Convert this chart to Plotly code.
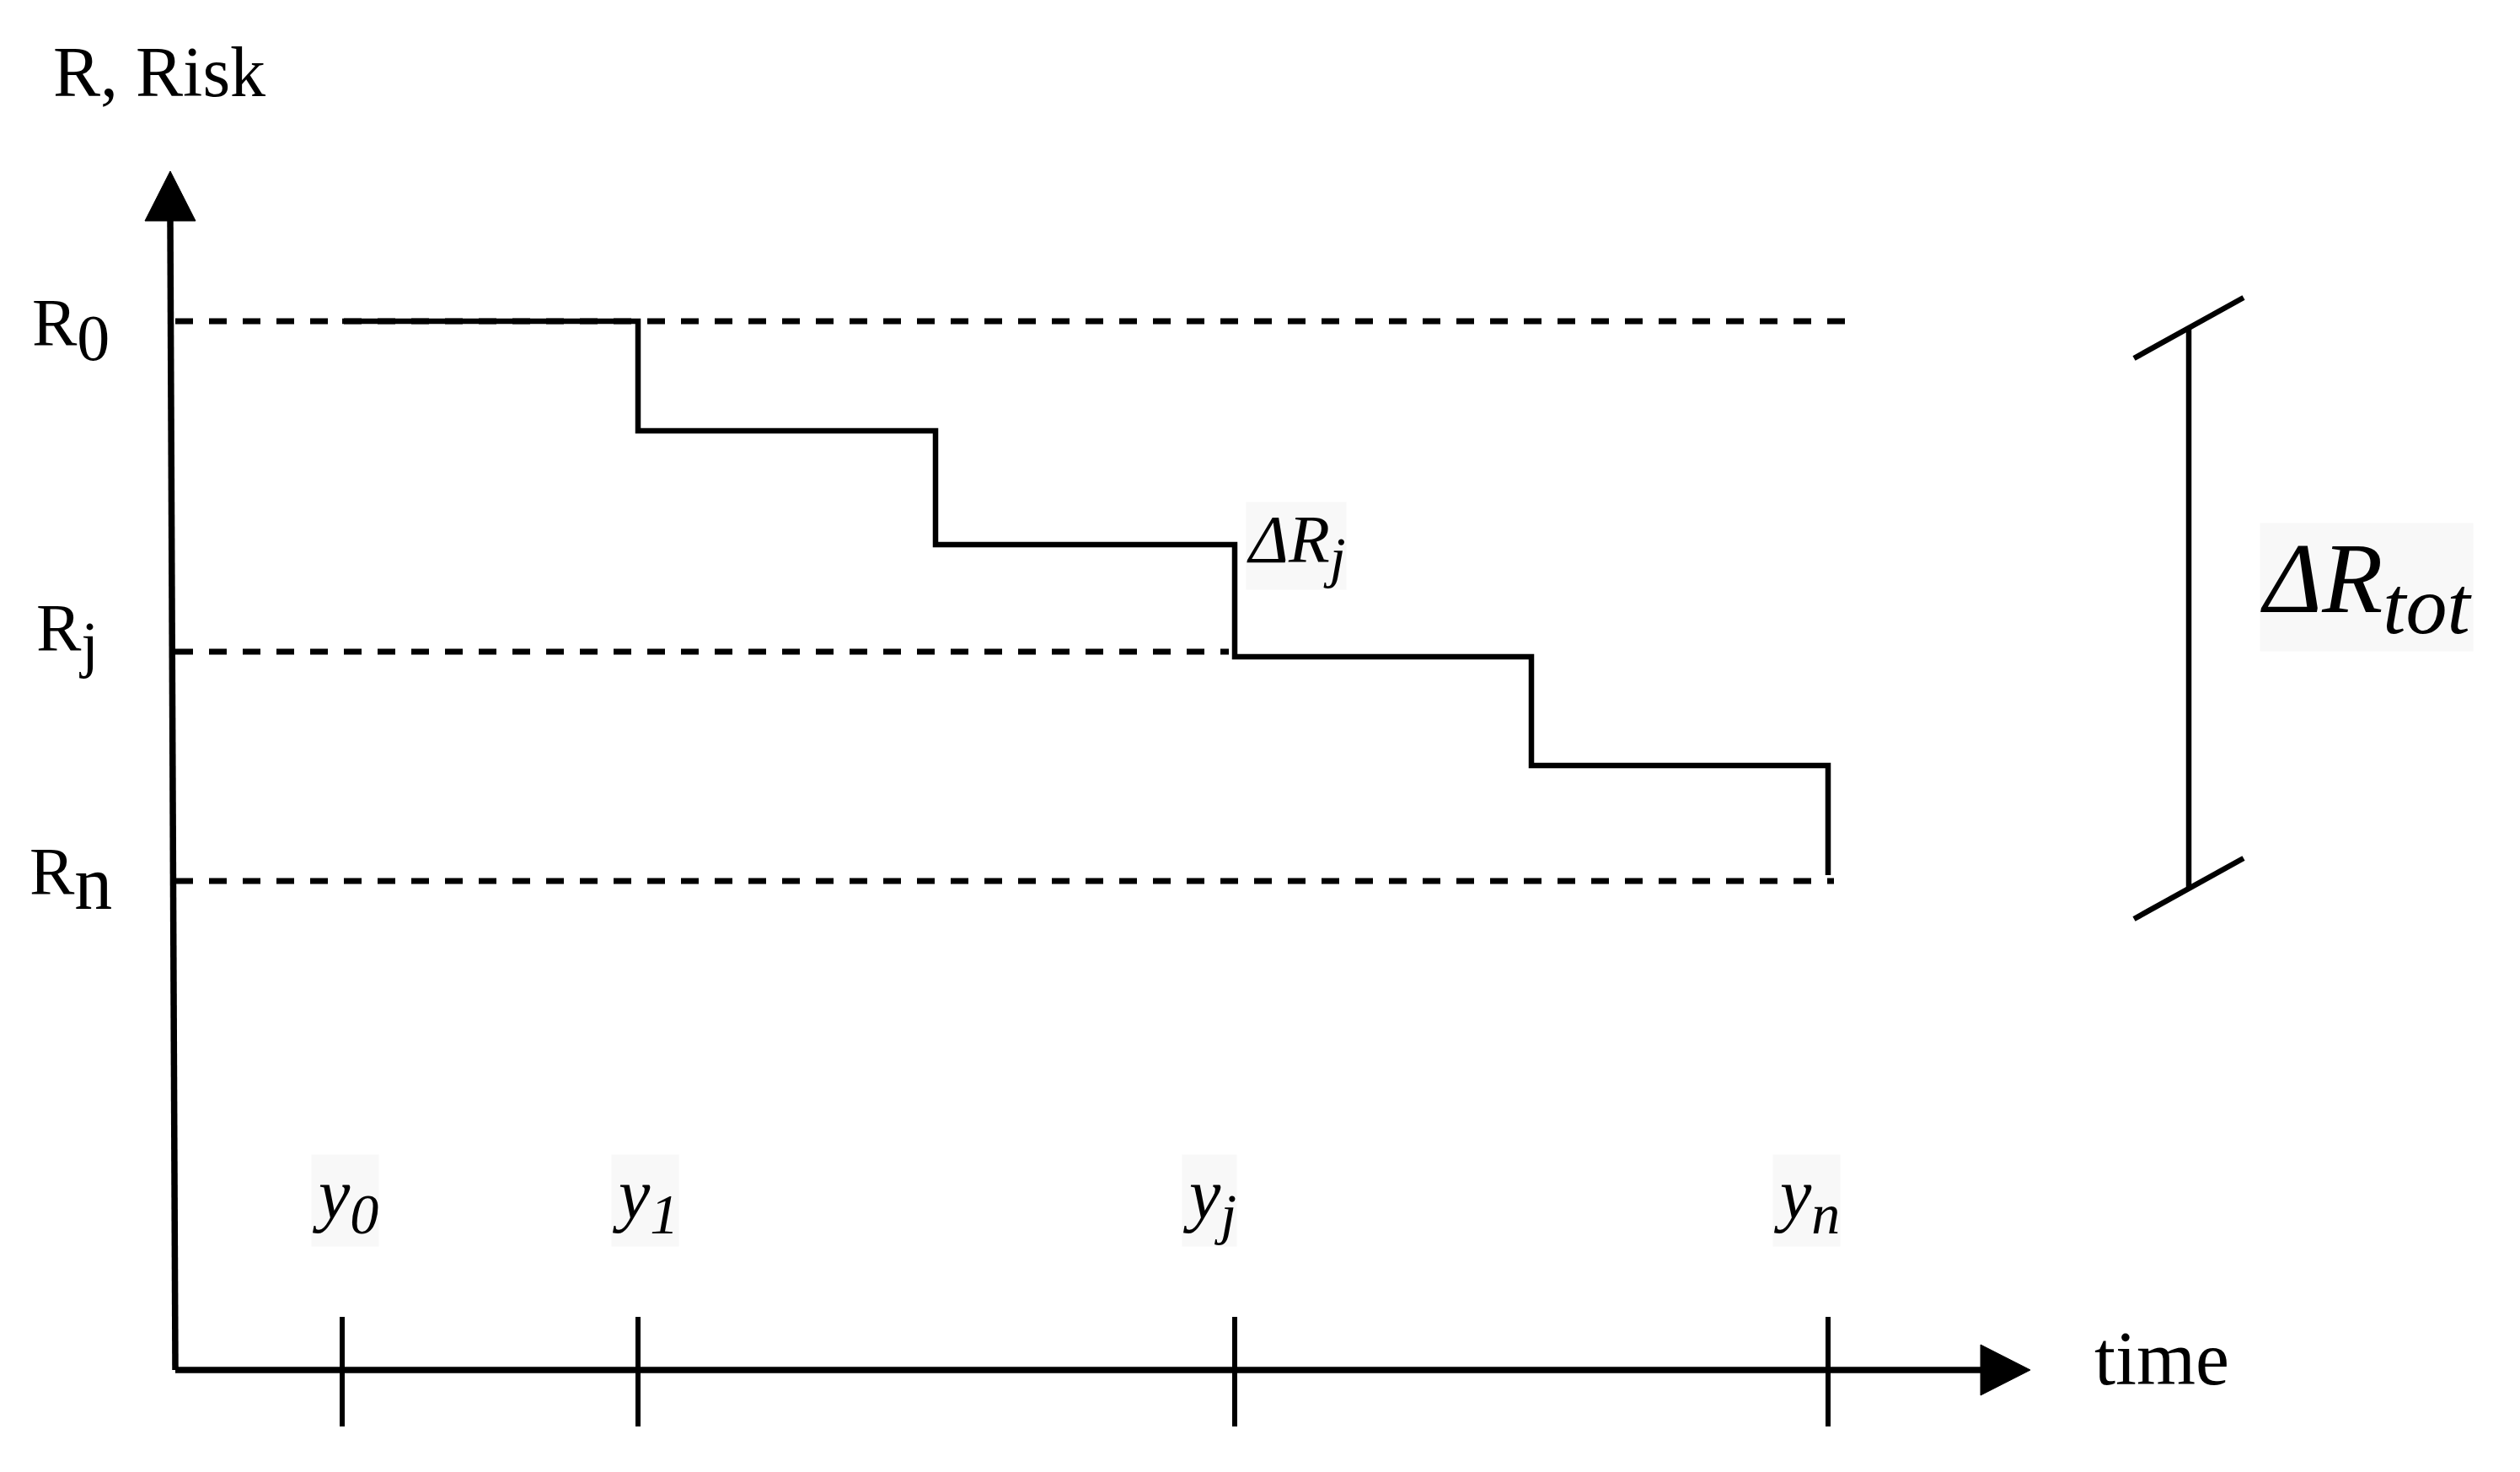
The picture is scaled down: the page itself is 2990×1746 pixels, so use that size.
import plotly.graph_objects as go

W, H = 2990, 1746

# risk steps: time of each reduction and the risk level held from that time on
step_times = [406, 757, 1110, 1465, 1817, 2169]
risk_levels = [1365, 1235, 1100, 967, 838, 708]

# reference risk levels (dashed)
ref_labels = ["R<sub><span style='font-size:78px'>0</span></sub>",
              "R<sub><span style='font-size:74px'>j</span></sub>",
              "R<sub><span style='font-size:90px'>n</span></sub>"]
ref_levels = [1365, 973, 701]
ref_ends = [2203, 1458, 2176]

# marked times on the time axis
tick_labels = ["<i>y</i><sub><span style='font-size:68px'><i>0</i></span></sub>",
               "<i>y</i><sub><span style='font-size:68px'><i>1</i></span></sub>",
               "<i>y</i><sub><span style='font-size:68px'><i>j</i></span></sub>",
               "<i>y</i><sub><span style='font-size:68px'><i>n</i></span></sub>"]
tick_idx = [0, 1, 3, 5]

# axes geometry
x0, y0 = 208, 121
y_top, x_end = 1543, 2409
arrow_len, arrow_half = 59, 30
FONT = "Liberation Serif"
INK = "black"

fig = go.Figure()

# dashed reference levels
for lvl, end in zip(ref_levels, ref_ends):
    fig.add_trace(go.Scatter(x=[x0, end], y=[lvl, lvl], mode="lines",
                             line=dict(color=INK, width=7, dash="21px,19px")))

# risk step line
fig.add_trace(go.Scatter(x=step_times + [step_times[-1]],
                         y=risk_levels[:-1] + [risk_levels[-2], risk_levels[-1]],
                         mode="lines", line_shape="hv",
                         line=dict(color=INK, width=6.5)))

# axes
fig.add_trace(go.Scatter(x=[x0, x0 - 6], y=[y0, y_top - arrow_len], mode="lines",
                         line=dict(color=INK, width=7.5)))
fig.add_trace(go.Scatter(x=[x0, x_end - arrow_len], y=[y0, y0], mode="lines",
                         line=dict(color=INK, width=7.5)))
# arrow heads
fig.add_trace(go.Scatter(x=[x0 - 6 - arrow_half, x0 - 6, x0 - 6 + arrow_half, x0 - 6 - arrow_half],
                         y=[y_top - arrow_len, y_top, y_top - arrow_len, y_top - arrow_len],
                         mode="lines", fill="toself", fillcolor=INK, line=dict(color=INK, width=1)))
fig.add_trace(go.Scatter(x=[x_end - arrow_len, x_end, x_end - arrow_len, x_end - arrow_len],
                         y=[y0 + arrow_half, y0, y0 - arrow_half, y0 + arrow_half],
                         mode="lines", fill="toself", fillcolor=INK, line=dict(color=INK, width=1)))

# ticks on the time axis
tx, ty = [], []
for i in tick_idx:
    tx += [step_times[i], step_times[i], None]
    ty += [y0 + 63, y0 - 67, None]
fig.add_trace(go.Scatter(x=tx, y=ty, mode="lines", line=dict(color=INK, width=6)))

# bracket for the total reduction
bx = 2597
br_top, br_bot = 1357, 692
fig.add_trace(go.Scatter(x=[bx, bx], y=[br_top, br_bot], mode="lines",
                         line=dict(color=INK, width=6.5)))
fig.add_trace(go.Scatter(x=[bx - 65, bx + 65, None, bx - 65, bx + 65],
                         y=[br_top - 36, br_top + 36, None, br_bot - 36, br_bot + 36],
                         mode="lines", line=dict(color=INK, width=6.5)))

ann = []
ann.append(dict(x=189, y=1661, text="R, Risk", font=dict(size=84)))
ref_label_x = [84, 80, 84]
ref_label_dy = [-10, 20, 2]
for lbl, lvl, lx, dy in zip(ref_labels, ref_levels, ref_label_x, ref_label_dy):
    ann.append(dict(x=lx, y=lvl + dy, text=lbl, font=dict(size=80)))
tick_label_dx = [3, 8, -30, -26]
for lbl, i, dx in zip(tick_labels, tick_idx, tick_label_dx):
    ann.append(dict(x=step_times[i] + dx, y=322, text=lbl, font=dict(size=84),
                    bgcolor="#f8f8f8"))
ann.append(dict(x=1538, y=1099, text="<i>ΔR</i><sub><span style='font-size:68px'><i>j</i></span></sub>",
                font=dict(size=80), bgcolor="#f8f8f8"))
ann.append(dict(x=2808, y=1050, text="<i>ΔR</i><sub><span style='font-size:98px'><i>tot</i></span></sub>",
                font=dict(size=118), bgcolor="#f8f8f8"))
ann.append(dict(x=2565, y=135, text="time", font=dict(size=90)))

for a in ann:
    a.update(xref="x", yref="y", showarrow=False, xanchor="center", yanchor="middle",
             borderpad=0)
    a["font"].update(family=FONT, color=INK)

fig.update_layout(
    annotations=ann,
    width=W, height=H,
    margin=dict(l=0, r=0, t=0, b=0),
    paper_bgcolor="white",
    plot_bgcolor="white",
    showlegend=False,
    xaxis=dict(range=[0, W], visible=False, fixedrange=True),
    yaxis=dict(range=[0, H], visible=False, fixedrange=True),
)

fig.write_html("out.html", config={"displayModeBar": False},
               post_script="document.body.style.margin='0';")
